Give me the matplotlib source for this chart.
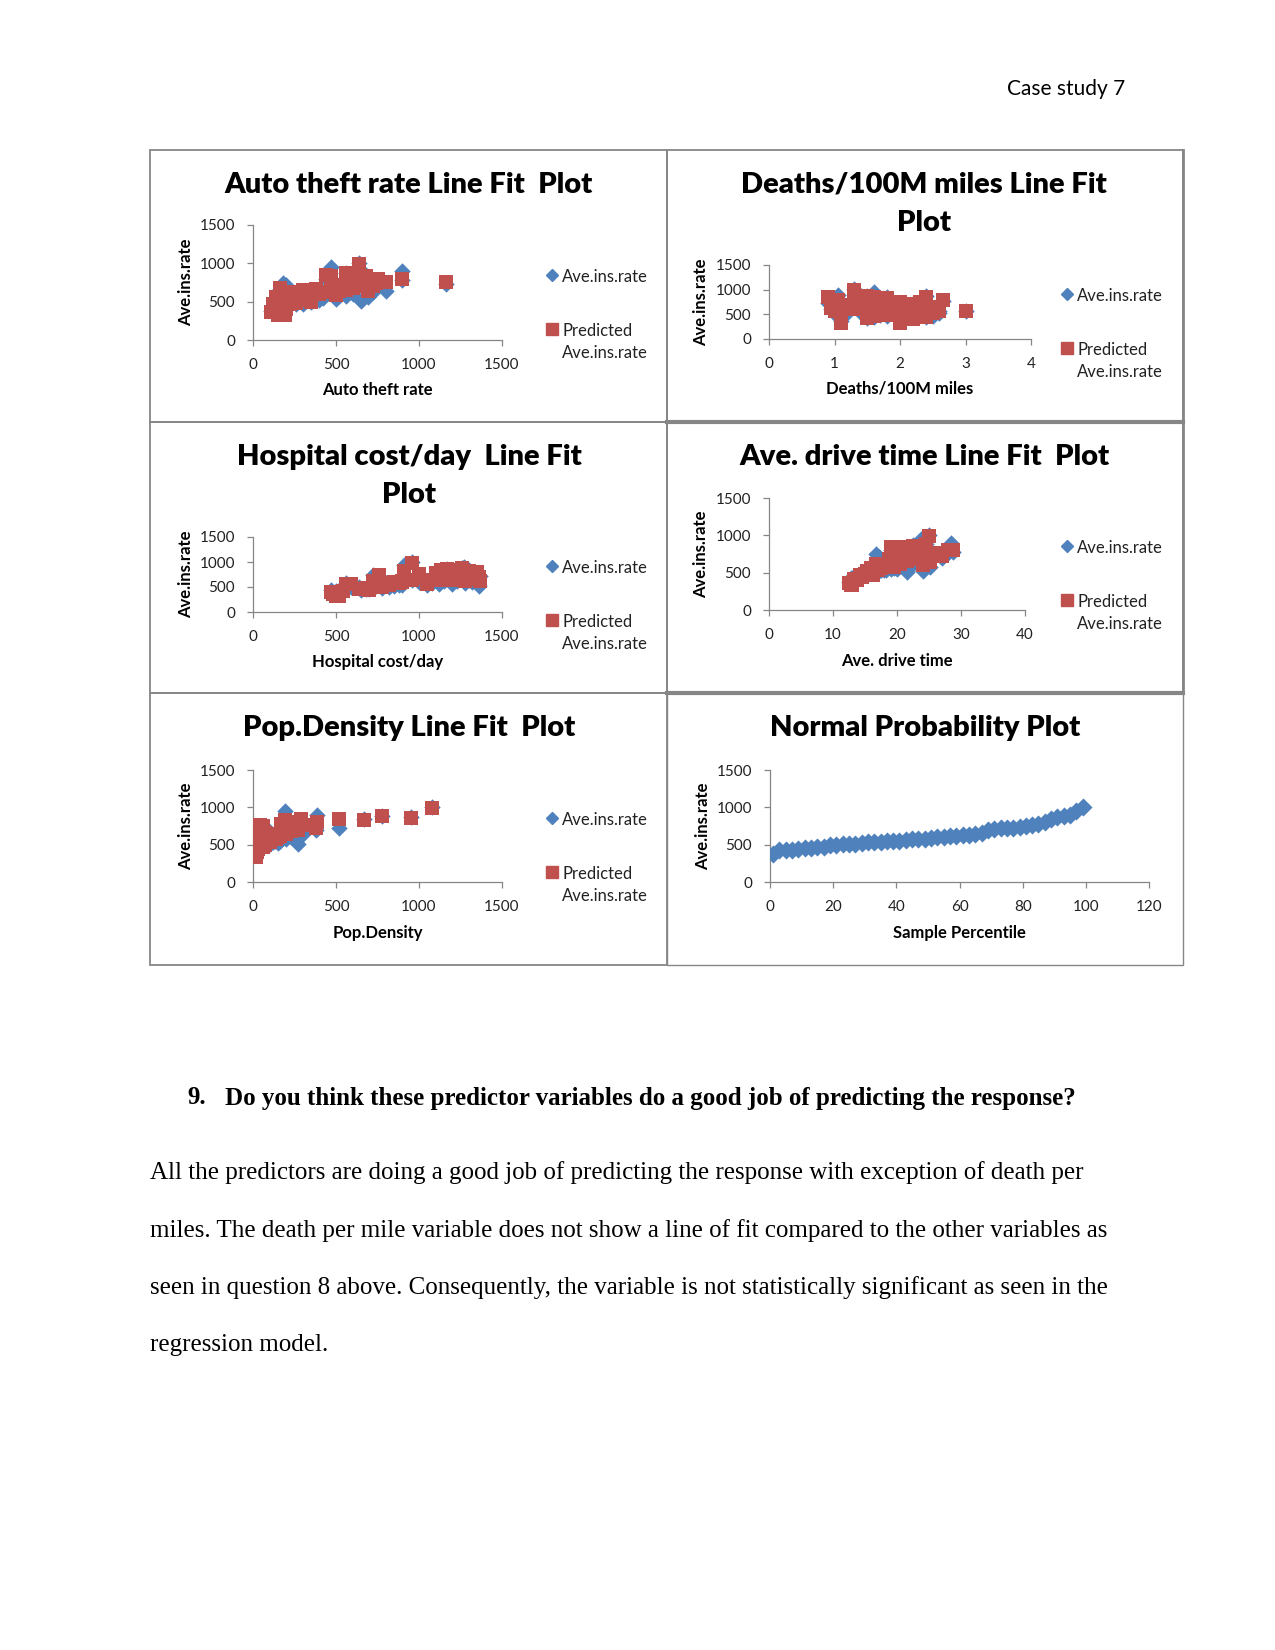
import matplotlib
matplotlib.use("Agg")
import matplotlib.pyplot as plt
from matplotlib.lines import Line2D
from matplotlib.patches import Rectangle

# ---------------- data ----------------
theft = [110, 190, 150, 130, 200, 120, 170, 260, 300, 350, 140, 220, 320, 650, 400, 280, 500, 360, 240, 420,
         690, 330, 560, 150, 520, 430, 600, 380, 250, 720, 470, 300, 800, 160, 540, 200, 620, 740, 1160, 580,
         180, 750, 900, 440, 680, 610, 560, 900, 470, 640]
deaths = [1.1, 1.1, 2.0, 1.5, 2.2, 1.6, 2.4, 1.8, 2.5, 1.7, 1.0, 2.3, 2.0, 2.0, 1.4, 2.6, 1.9, 1.2, 2.1, 1.5,
          2.3, 1.8, 2.6, 3.0, 1.6, 2.4, 1.4, 1.7, 0.95, 2.2, 1.5, 2.5, 1.3, 1.1, 2.0, 1.9, 0.9, 2.3, 2.0, 1.6,
          1.6, 2.65, 1.0, 1.6, 1.8, 2.4, 1.5, 1.05, 1.6, 1.3]
hosp = [480, 520, 500, 540, 470, 650, 700, 680, 720, 780, 590, 640, 820, 1360, 850, 740, 880, 900, 1050, 760,
        1120, 830, 1200, 560, 1080, 1280, 1000, 1320, 900, 1150, 1230, 960, 1300, 1140, 1180, 1370, 1250, 760, 1000, 1100,
        720, 1260, 1350, 1130, 1300, 1170, 1260, 1270, 910, 960]
drive = [12.5, 12.8, 13.0, 13.3, 13.8, 14.2, 14.5, 15.0, 15.3, 15.8, 16.0, 16.3, 17.0, 21.5, 24.0, 17.5, 18.0, 18.3, 17.8, 19.0,
         20.0, 19.5, 21.0, 16.5, 25.2, 20.5, 22.0, 21.5, 20.2, 22.5, 21.8, 19.8, 23.0, 18.8, 27.0, 17.2, 21.0, 22.0, 26.0, 23.5,
         16.7, 28.0, 28.8, 19.0, 23.0, 22.5, 24.5, 28.5, 23.8, 25.0]
pop_density = [10, 20, 15, 8, 25, 40, 30, 55, 45, 70, 18, 60, 100, 270, 150, 90, 120, 80, 130, 160,
               110, 140, 50, 12, 200, 65, 230, 180, 95, 250, 210, 75, 300, 35, 380, 85, 520, 60, 40, 170,
               50, 230, 260, 290, 670, 950, 780, 385, 190, 1080]
ave_ins_rate = [375, 425, 430, 435, 440, 450, 455, 465, 475, 490, 500, 505, 510, 515, 520, 530, 535, 540, 545, 550,
                555, 565, 570, 575, 580, 590, 600, 605, 610, 620, 630, 635, 640, 660, 700, 715, 720, 720, 725, 735,
                750, 770, 780, 800, 850, 870, 880, 900, 950, 1010]
predicted = [360, 330, 330, 420, 400, 470, 440, 480, 520, 500, 560, 470, 540, 700, 600, 560, 590, 610, 570, 620,
             640, 580, 650, 560, 640, 620, 680, 660, 630, 700, 710, 650, 760, 680, 720, 620, 850, 750, 760, 780,
             620, 800, 800, 850, 830, 860, 880, 800, 830, 990]

# normal probability plot
sample_percentile = [1, 3, 5, 7, 9, 11, 13, 15, 17, 19, 21, 23, 25, 27, 29, 31, 33, 35, 37, 39,
                     41, 43, 45, 47, 49, 51, 53, 55, 57, 59, 61, 63, 65, 67, 69, 71, 73, 75, 77, 79,
                     81, 83, 85, 87, 89, 91, 93, 95, 97, 99]
npp_values = [375, 425, 430, 435, 440, 450, 455, 465, 475, 490, 500, 505, 510, 515, 520, 530, 535, 540, 545, 550,
              555, 565, 570, 575, 580, 590, 600, 605, 610, 620, 630, 635, 640, 660, 700, 715, 720, 720, 725, 735,
              750, 770, 780, 800, 850, 870, 880, 900, 950, 1010]

# ---------------- style ----------------
W, H = 1275, 1650
fig = plt.figure(figsize=(W / 100, H / 100), dpi=100)
fig.patch.set_facecolor("white")

BLUE = "#4F81BD"
RED = "#C0504D"
GRAY = "#868686"
CF = "Lato"
TITLE_SIZE = 21
LABEL_SIZE = 12


def fx(x):
    return x / W


def fy(y):
    return 1 - y / H


def px_axes(left, top, right, bottom):
    return fig.add_axes([left / W, 1 - bottom / H, (right - left) / W, (bottom - top) / H])


def style_axes(ax, xlim, xticks, ylim, yticks):
    ax.set_xlim(*xlim)
    ax.set_ylim(*ylim)
    ax.set_xticks(xticks)
    ax.set_yticks(yticks)
    for s in ["top", "right"]:
        ax.spines[s].set_visible(False)
    for s in ["left", "bottom"]:
        ax.spines[s].set_color(GRAY)
        ax.spines[s].set_linewidth(0.9)
    ax.tick_params(axis="both", direction="out", length=4, width=0.9, color=GRAY,
                   labelsize=11, labelcolor="#222222", pad=9)
    for lab in ax.get_xticklabels() + ax.get_yticklabels():
        lab.set_family(CF)
    ax.patch.set_alpha(0)


# panel borders
borders = [
    (150, 150, 667, 422, 1.3), (667, 150, 1183, 422, 1.3),
    (150, 422, 667, 693, 1.3), (667, 422, 1183, 693, 1.3),
    (150, 693, 667, 965, 1.3), (667, 693, 1183, 965, 1.0),
]
for (l, t, r, b, lw) in borders:
    fig.add_artist(Rectangle((fx(l), fy(b)), (r - l) / W, (b - t) / H, transform=fig.transFigure,
                             fill=False, edgecolor=GRAY, linewidth=lw))
fig.add_artist(Line2D([fx(667), fx(1183)], [fy(422), fy(422)], transform=fig.transFigure, color=GRAY, lw=3))
fig.add_artist(Line2D([fx(667), fx(1183)], [fy(693), fy(693)], transform=fig.transFigure, color=GRAY, lw=3))
fig.add_artist(Line2D([fx(1183), fx(1183)], [fy(150), fy(693)], transform=fig.transFigure, color=GRAY, lw=2))


def add_legend(ax, legend_xy):
    h1 = Line2D([], [], marker="D", color=BLUE, linestyle="none", markersize=6.5)
    h2 = Line2D([], [], marker="s", color=RED, linestyle="none", markersize=8.5)
    leg = ax.legend([h1, h2], ["Ave.ins.rate", "Predicted\nAve.ins.rate"],
                    loc="upper left", bbox_to_anchor=(fx(legend_xy[0]), fy(legend_xy[1])),
                    bbox_transform=fig.transFigure, frameon=False, handlelength=0.6,
                    handletextpad=0.3, labelspacing=2.25, borderpad=0,
                    prop={"family": CF, "size": 12})
    for t in leg.get_texts():
        t.set_color("#222222")
        t.set_linespacing(1.45)
    # align each marker with the first line of its label
    for col in leg._legend_handle_box.get_children():
        for row in col.get_children():
            row.align = "top"
    return leg


def fit_panel(p):
    rect = p["rect"]
    ax = px_axes(*rect)
    ax.scatter(p["xdata"], ave_ins_rate, marker="D", s=70, color=BLUE, linewidths=0, zorder=3)
    ax.scatter(p["xdata"], predicted, marker="s", s=110, color=RED, linewidths=0, zorder=4)
    style_axes(ax, p["xlim"], p["xticks"], (0, 1500), [0, 500, 1000, 1500])
    for i, line in enumerate(p["title_lines"]):
        fig.text(fx(p["cx"]), fy(p["title_y"] + i * 38), line, ha="center", va="center",
                 fontsize=TITLE_SIZE, fontweight="heavy", family=CF)
    fig.text(fx(p["xlabel_cx"]), fy(p["xlabel_y"]), p["xlabel"],
             ha="center", va="center", fontsize=LABEL_SIZE, fontweight="bold", family=CF)
    fig.text(fx(p["ylabel_x"]), fy((rect[1] + rect[3]) / 2), "Ave.ins.rate", rotation=90,
             ha="center", va="center", fontsize=LABEL_SIZE, fontweight="bold", family=CF)
    add_legend(ax, p["legend_xy"])
    return ax


panels = [
    dict(rect=(253, 225, 502, 340), xdata=theft, xlim=(0, 1500), xticks=[0, 500, 1000, 1500],
         title_lines=["Auto theft rate Line Fit  Plot"], title_y=185, xlabel="Auto theft rate",
         xlabel_cx=377, xlabel_y=390, ylabel_x=186, legend_xy=(539, 261), cx=409),
    dict(rect=(769, 265, 1031, 339), xdata=deaths, xlim=(0, 4), xticks=[0, 1, 2, 3, 4],
         title_lines=["Deaths/100M miles Line Fit", "Plot"], title_y=185, xlabel="Deaths/100M miles",
         xlabel_cx=900, xlabel_y=389, ylabel_x=701, legend_xy=(1054, 280), cx=924),
    dict(rect=(253, 537, 502, 612), xdata=hosp, xlim=(0, 1500), xticks=[0, 500, 1000, 1500],
         title_lines=["Hospital cost/day  Line Fit", "Plot"], title_y=457, xlabel="Hospital cost/day",
         xlabel_cx=378, xlabel_y=662, ylabel_x=186, legend_xy=(539, 552), cx=409),
    dict(rect=(769, 498, 1025, 610), xdata=drive, xlim=(0, 40), xticks=[0, 10, 20, 30, 40],
         title_lines=["Ave. drive time Line Fit  Plot"], title_y=457, xlabel="Ave. drive time",
         xlabel_cx=897, xlabel_y=661, ylabel_x=701, legend_xy=(1054, 532), cx=924),
    dict(rect=(253, 770, 502, 882), xdata=pop_density, xlim=(0, 1500), xticks=[0, 500, 1000, 1500],
         title_lines=["Pop.Density Line Fit  Plot"], title_y=728, xlabel="Pop.Density",
         xlabel_cx=378, xlabel_y=933, ylabel_x=186, legend_xy=(539, 804), cx=409),
]

for p in panels:
    fit_panel(p)

# normal probability plot
ax6 = px_axes(770, 770, 1149, 882)
ax6.scatter(sample_percentile, npp_values, marker="D", s=85, color=BLUE, linewidths=0, zorder=3)
style_axes(ax6, (0, 120), [0, 20, 40, 60, 80, 100, 120], (0, 1500), [0, 500, 1000, 1500])
fig.text(fx(925), fy(728), "Normal Probability Plot", ha="center", va="center",
         fontsize=TITLE_SIZE, fontweight="heavy", family=CF)
fig.text(fx(959), fy(933), "Sample Percentile", ha="center", va="center",
         fontsize=LABEL_SIZE, fontweight="bold", family=CF)
fig.text(fx(703), fy(826), "Ave.ins.rate", rotation=90, ha="center", va="center",
         fontsize=LABEL_SIZE, fontweight="bold", family=CF)

# ---------------- page text ----------------
fig.text(fx(1125), fy(89), "Case study 7", ha="right", va="center", fontsize=15, family=CF)

SERIF = "Liberation Serif"
fig.text(fx(187), fy(1098), "9.", ha="left", va="center", fontsize=18, fontweight="bold", family=SERIF)
fig.text(fx(225), fy(1098), "Do you think these predictor variables do a good job of predicting the response?",
         ha="left", va="center", fontsize=18, fontweight="bold", family=SERIF)

body = [
    "All the predictors are doing a good job of predicting the response with exception of death per",
    "miles. The death per mile variable does not show a line of fit compared to the other variables as",
    "seen in question 8 above. Consequently, the variable is not statistically significant as seen in the",
    "regression model.",
]
for i, line in enumerate(body):
    fig.text(fx(150), fy(1173 + i * 57.5), line, ha="left", va="center", fontsize=18, family=SERIF)

fig.savefig("out.png", dpi=100, facecolor="white")
